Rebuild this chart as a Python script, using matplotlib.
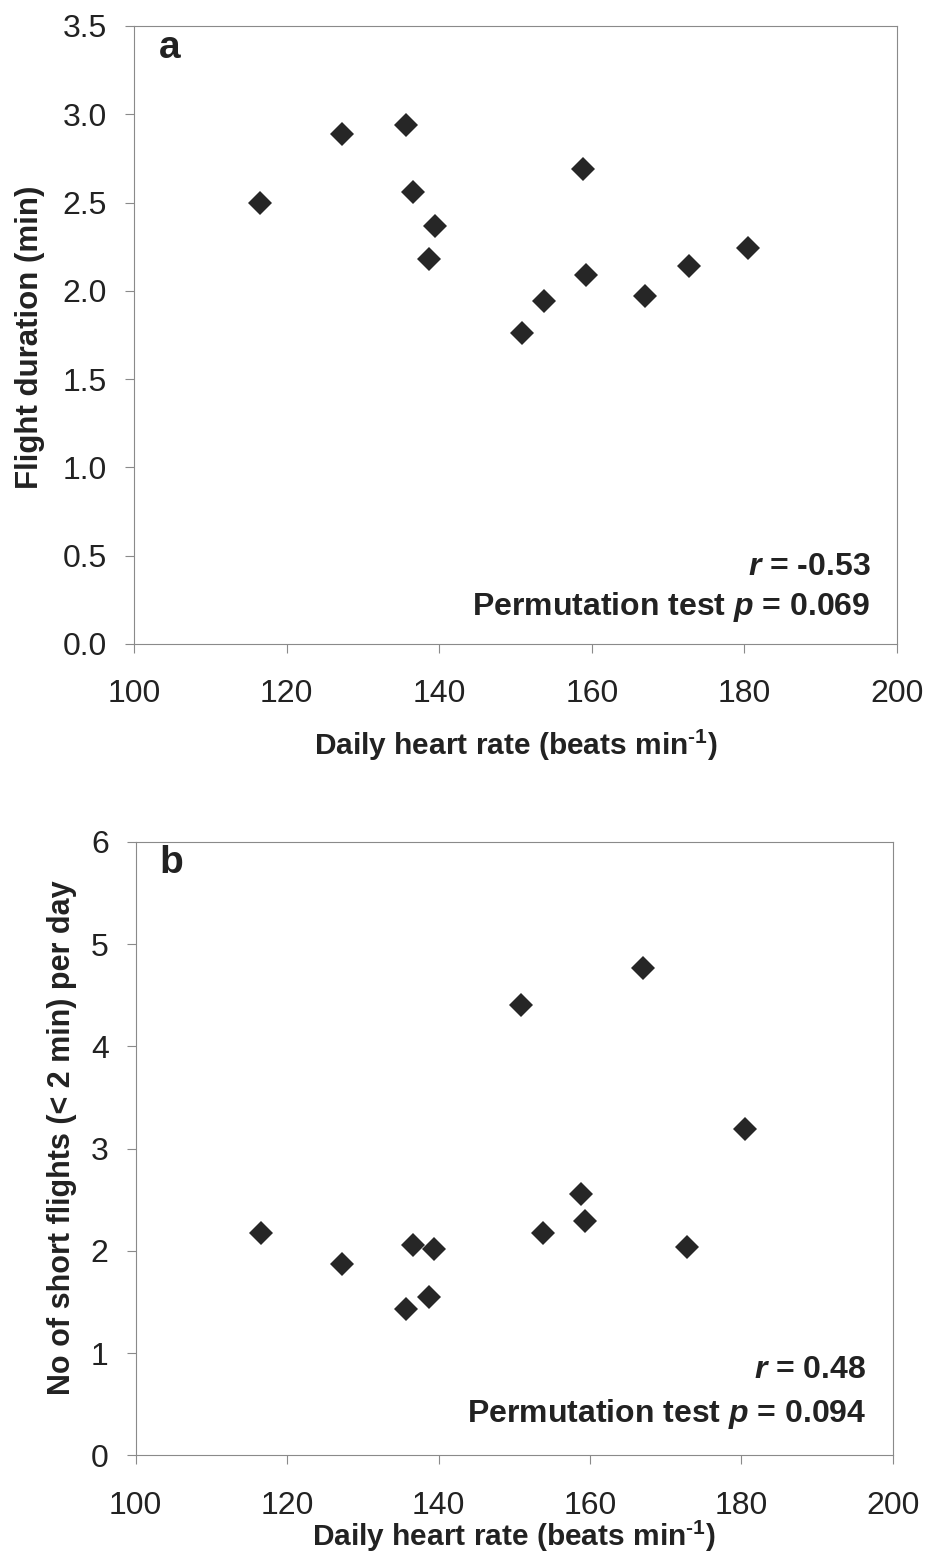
import matplotlib
matplotlib.use('Agg')
import matplotlib.pyplot as plt
from matplotlib.ticker import FormatStrFormatter

plt.rcParams['font.family'] = ['Liberation Sans', 'DejaVu Sans']
plt.rcParams['mathtext.fontset'] = 'custom'
plt.rcParams['mathtext.rm'] = 'Liberation Sans:bold'
plt.rcParams['mathtext.bf'] = 'Liberation Sans:bold'
plt.rcParams['mathtext.it'] = 'Liberation Sans:italic:bold'

# daily heart rate (beats/min) per bird, shared by both panels
heart_rate = [116.5, 127.3, 135.7, 136.6, 139.4, 138.7, 158.8,
              150.9, 153.8, 159.3, 167.0, 172.8, 180.5]
# panel a: mean flight duration (min)
flight_duration = [2.50, 2.89, 2.94, 2.56, 2.37, 2.18, 2.69,
                   1.76, 1.94, 2.09, 1.97, 2.14, 2.24]
# panel b: number of short flights (< 2 min) per day
short_flights = [2.17, 1.87, 1.43, 2.06, 2.02, 1.55, 2.56,
                 4.40, 2.17, 2.29, 4.77, 2.04, 3.19]

x_ticks = [100, 120, 140, 160, 180, 200]
a_yticks = [0.0, 0.5, 1.0, 1.5, 2.0, 2.5, 3.0, 3.5]
b_yticks = [0, 1, 2, 3, 4, 5, 6]

FRAME = '#8a8a8a'
INK = '#222222'
XLABEL = r'Daily heart rate (beats min$^{\mathbf{\text{-}1}}$)'


def panel(ax, y, yticks, ylabel, ylsize, letter, r_txt, p_txt, yfmt):
    ax.plot(heart_rate, y, linestyle='none', marker='D', markersize=12.5,
            color='#262626', markeredgewidth=0)
    ax.set_xlim(100, 200)
    ax.set_ylim(yticks[0], yticks[-1])
    ax.set_xticks(x_ticks)
    ax.set_yticks(yticks)
    ax.yaxis.set_major_formatter(FormatStrFormatter(yfmt))
    for s in ax.spines.values():
        s.set_color(FRAME)
        s.set_linewidth(0.8)
    ax.tick_params(axis='both', direction='out', length=6.5, width=0.8,
                   color=FRAME, labelcolor=INK, labelsize=23)
    ax.tick_params(axis='x', pad=19)
    ax.tick_params(axis='y', pad=13)
    ax.set_xlabel(XLABEL, fontsize=21.5, fontweight='bold', color=INK)
    ax.set_ylabel(ylabel, fontsize=ylsize, fontweight='bold', color=INK)
    ax.text(0.047, 0.965, letter, transform=ax.transAxes, fontsize=28,
            fontweight='bold', color=INK, ha='center', va='center')
    ax.text(0.965, r_txt[1], r_txt[0], transform=ax.transAxes, fontsize=23,
            fontweight='bold', color=INK, ha='right', va='center')
    ax.text(0.965, p_txt[1], p_txt[0], transform=ax.transAxes, fontsize=23,
            fontweight='bold', color=INK, ha='right', va='center')


fig = plt.figure(figsize=(9.27, 15.66), dpi=100)
ax_a = fig.add_axes([0.1446, 0.5888, 0.823, 0.3946])
ax_b = fig.add_axes([0.1464, 0.0706, 0.8166, 0.3919])

panel(ax_a, flight_duration, a_yticks, 'Flight duration (min)', 22.5, 'a',
      (r'$\mathit{r}$ = -0.53', 0.125),
      (r'Permutation test $\mathit{p}$ = 0.069', 0.06), '%.1f')
panel(ax_b, short_flights, b_yticks, 'No of short flights (< 2 min) per day',
      22, 'b',
      (r'$\mathit{r}$ = 0.48', 0.139),
      (r'Permutation test $\mathit{p}$ = 0.094', 0.068), '%d')

ax_a.xaxis.set_label_coords(0.5, -0.136)
ax_a.yaxis.set_label_coords(-0.117, 0.497)
ax_b.xaxis.set_label_coords(0.5, -0.104)
ax_b.yaxis.set_label_coords(-0.078, 0.518)

fig.savefig('out.png', dpi=100, facecolor='white')
